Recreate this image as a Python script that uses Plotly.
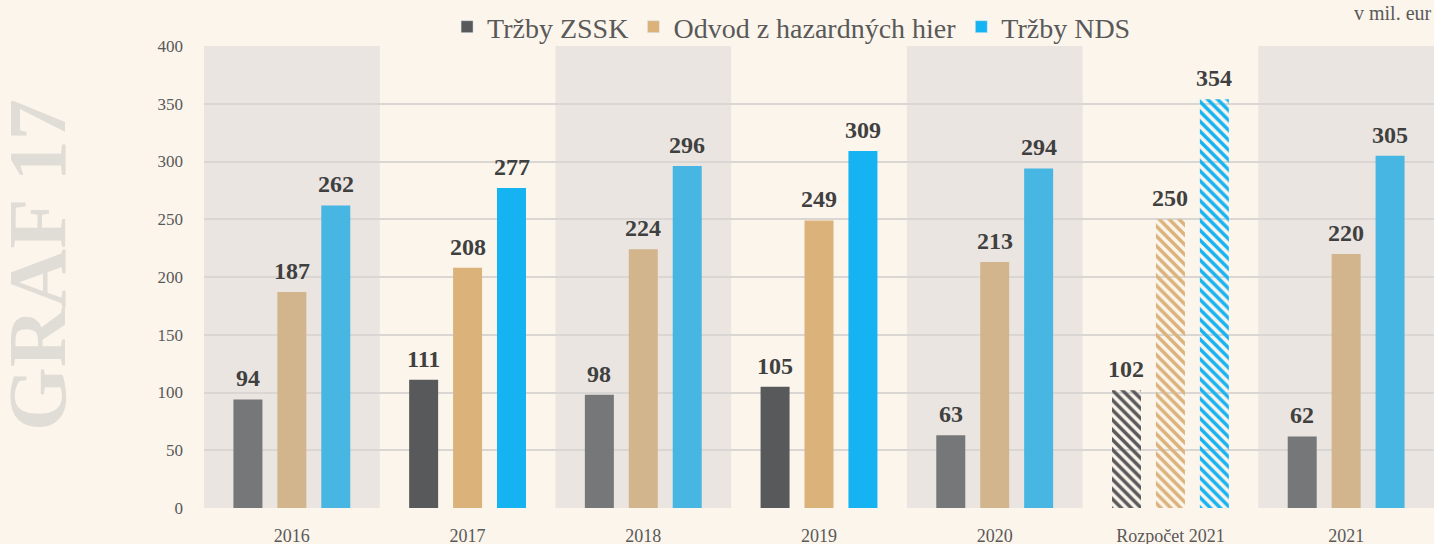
import plotly.graph_objects as go

categories = ["2016", "2017", "2018", "2019", "2020", "Rozpočet 2021", "2021"]
zssk = [94, 111, 98, 105, 63, 102, 62]
hazard = [187, 208, 224, 249, 213, 250, 220]
nds = [262, 277, 296, 309, 294, 354, 305]
series_names = ["Tržby ZSSK", "Odvod z hazardných hier", "Tržby NDS"]

# shaded (light) vs. unshaded (dark) column colours
light = ["#767778", "#D2B58C", "#47B6E2"]
dark = ["#58595B", "#DBB27A", "#15B3F2"]
shaded = [True, False, True, False, True, False, True]
patterned = [False, False, False, False, False, True, False]

PAPER = "#FCF5EC"
BAND = "#EAE5E0"
GRID = "#D9D6D3"
TXT = "#595959"
SERIF = "Liberation Serif"
GROUP_SHIFT = 44  # px between bars inside a group

fig = go.Figure()
for k, (name, vals) in enumerate(zip(series_names, [zssk, hazard, nds])):
    cols = [light[k] if s else dark[k] for s in shaded]
    fig.add_trace(go.Bar(
        x=categories, y=vals, name=name, offsetgroup=f"g{k}",
        marker=dict(
            color=cols,
            line=dict(width=0),
            pattern=dict(shape=["\\" if p else "" for p in patterned],
                         bgcolor="white", fillmode="replace",
                         size=7, solidity=0.5),
        ),
        showlegend=False,
    ))
    # legend proxies with solid dark colour
    fig.add_trace(go.Bar(x=[categories[0]], y=[None], name=name,
                         offsetgroup=f"g{k}",
                         marker=dict(color=dark[k]), showlegend=True))
    # value labels (category index used as position on the category axis)
    for i, v in enumerate(vals):
        fig.add_annotation(x=i, y=v, xref="x", yref="y", text=str(v),
                           showarrow=False, xshift=(k - 1) * GROUP_SHIFT,
                           yanchor="bottom", yshift=6,
                           font=dict(family=SERIF, size=24, color="#404040",
                                     weight="bold"))

# alternating background bands
for i, s in enumerate(shaded):
    if s:
        fig.add_shape(type="rect", xref="x", yref="y", x0=i - 0.5, x1=i + 0.5,
                      y0=0, y1=400, fillcolor=BAND, line=dict(width=0),
                      layer="below")

fig.add_annotation(text="GRAF 17", textangle=-90, xref="paper", yref="paper",
                   x=-0.1350, y=0.526, xanchor="center", yanchor="middle",
                   showarrow=False,
                   font=dict(family=SERIF, size=82, color="#E0DCD6", weight="bold"))
fig.add_annotation(text="v mil. eur", xref="paper", yref="paper",
                   x=1.0, y=1.1, xanchor="right", yanchor="top", showarrow=False,
                   font=dict(family=SERIF, size=20, color=TXT))

fig.update_layout(
    width=1434, height=544,
    paper_bgcolor=PAPER, plot_bgcolor=PAPER,
    margin=dict(l=204, r=0, t=46, b=36, autoexpand=False),
    barmode="group", bargap=0.25, bargroupgap=0.34,
    font=dict(family=SERIF, color=TXT),
    legend=dict(orientation="h", xref="container", yref="container",
                x=0.552, y=1 - 27 / 544, xanchor="center", yanchor="middle",
                font=dict(family=SERIF, size=28, color=TXT),
                bgcolor="rgba(0,0,0,0)", itemwidth=30, traceorder="normal"),
    xaxis=dict(range=[-0.5, 6.5], showgrid=False, zeroline=False,
               automargin=False,
               ticks="outside", ticklen=11, tickcolor="rgba(0,0,0,0)",
               tickfont=dict(family=SERIF, size=18, color=TXT)),
    yaxis=dict(range=[0, 400], tickvals=list(range(0, 401, 50)),
               showgrid=True, gridcolor=GRID, gridwidth=2, zeroline=False,
               automargin=False, ticklabelstandoff=20,
               tickfont=dict(family=SERIF, size=17, color=TXT)),
)

fig.write_html("out.html", config={"displayModeBar": False},
               post_script="document.body.style.margin='0';")
